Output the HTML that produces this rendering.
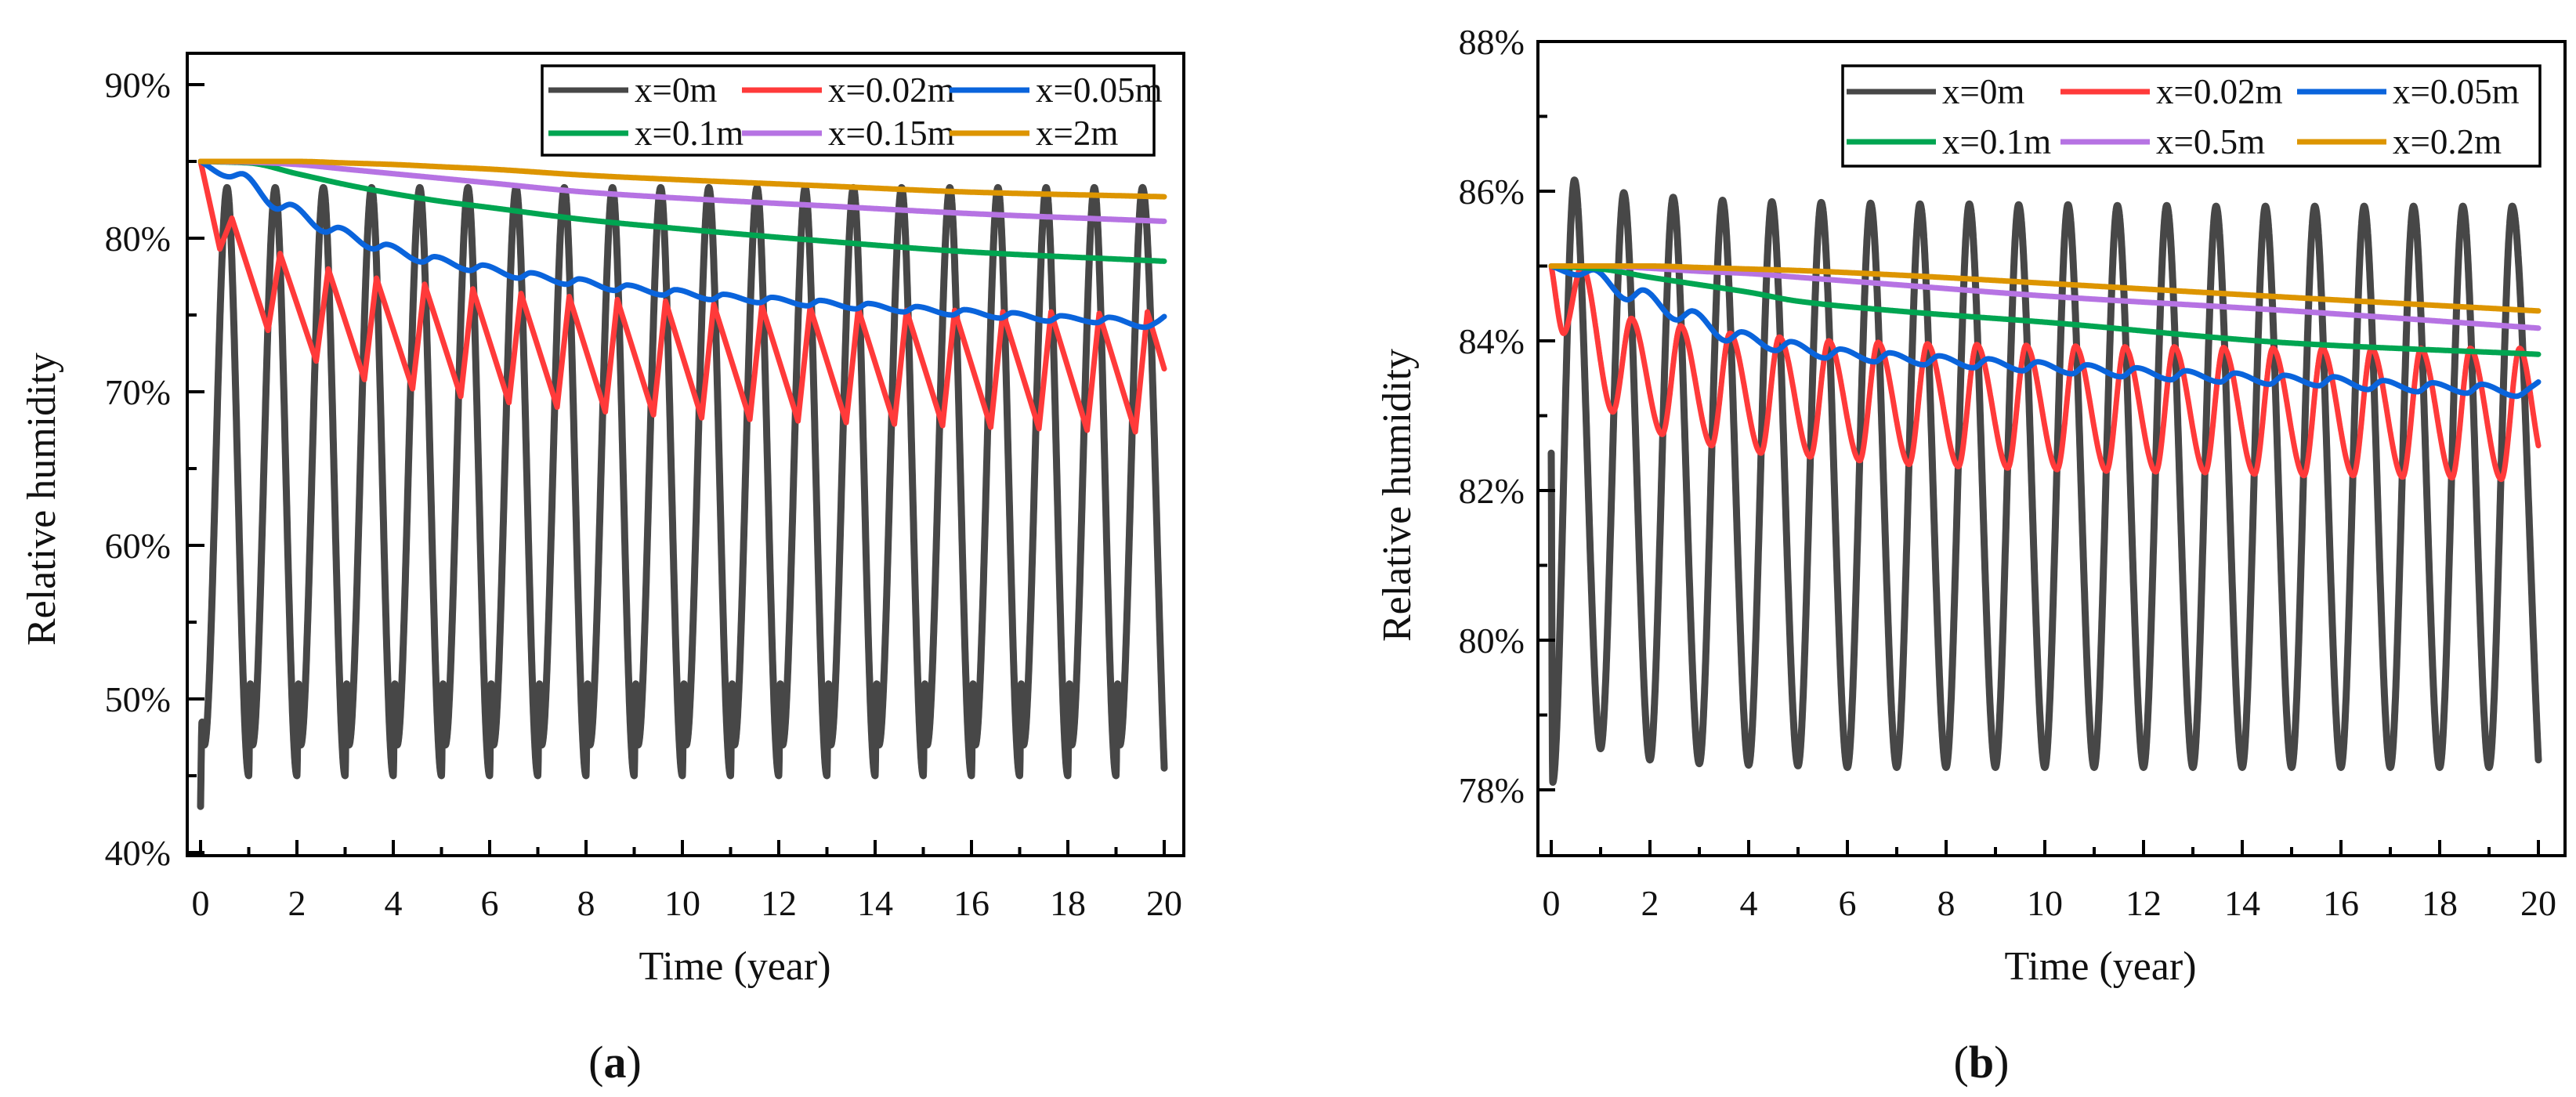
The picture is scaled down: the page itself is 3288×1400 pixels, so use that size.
<!DOCTYPE html>
<html><head><meta charset="utf-8">
<style>
html,body{margin:0;padding:0;background:#fff;}
svg{display:block;font-family:"Liberation Serif",serif;}
</style></head>
<body>
<svg id="fig" width="3288" height="1400" viewBox="0 0 3288 1400" xmlns="http://www.w3.org/2000/svg">
<rect width="3288" height="1400" fill="#fff"/>
<g id="pa"></g>
<g id="pb"></g>
</svg>
<script>
// ---------- Panel (a) data ----------
const xTicksA = [0,2,4,6,8,10,12,14,16,18,20];
const yTicksA = [40,50,60,70,80,90];
const yTickLabelsA = ["40%","50%","60%","70%","80%","90%"];
const legendA = ["x=0m","x=0.02m","x=0.05m","x=0.1m","x=0.15m","x=2m"];
const blackTroughA = [43,45,45,45,45,45,45,45,45,45,45,45,45,45,45,45,45,45,45,45,45.5];
const blackNotchHiA = [48.5,51,51,51,51,51,51,51,51,51,51,51,51,51,51,51,51,51,51,51];
const blackNotchLoA = [47,47,47,47,47,47,47,47,47,47,47,47,47,47,47,47,47,47,47,47];
const blackPeakA = [83.3,83.3,83.3,83.3,83.3,83.3,83.3,83.3,83.3,83.3,83.3,83.3,83.3,83.3,83.3,83.3,83.3,83.3,83.3,83.3];
const redTroughA = [79.3,74,72,70.8,70.2,69.7,69.3,69,68.7,68.5,68.3,68.2,68.1,68,67.9,67.8,67.7,67.6,67.5,67.4];
const redPeakA = [81.3,79,78,77.4,77,76.7,76.4,76.2,76,75.9,75.7,75.6,75.5,75.4,75.3,75.3,75.2,75.2,75.1,75.2];
const redStartA = 85, redEndA = 71.5;
const blueMinA = [84.0,81.9,80.4,79.3,78.45,77.9,77.4,77.0,76.6,76.3,76.0,75.8,75.6,75.4,75.2,75.0,74.8,74.6,74.5,74.2];
const blueMaxA = [84.2,82.2,80.7,79.6,78.8,78.25,77.75,77.35,76.95,76.65,76.35,76.15,75.95,75.75,75.55,75.35,75.15,74.95,74.85,74.55];
const blueStartA = 85, blueEndA = 74.9;
const smoothT = [0,1,2,3,4,5,6,8,10,13,16,20];
const greenA  = [85,84.9,84.2,83.5,82.9,82.4,82.0,81.2,80.6,79.8,79.1,78.5];
const purpleA = [85,84.95,84.8,84.5,84.2,83.9,83.6,83.0,82.6,82.1,81.6,81.1];
const goldA   = [85,85,85,84.9,84.8,84.65,84.5,84.1,83.8,83.4,83.0,82.7];

// ---------- Panel (b) data ----------
const xTicksB = [0,2,4,6,8,10,12,14,16,18,20];
const yTicksB = [78,80,82,84,86,88];
const yTickLabelsB = ["78%","80%","82%","84%","86%","88%"];
const legendB = ["x=0m","x=0.02m","x=0.05m","x=0.1m","x=0.5m","x=0.2m"];
const blackStartB = [82.5,78.1];
const blackPeakB = [86.15,85.98,85.92,85.88,85.86,85.85,85.84,85.83,85.83,85.82,85.82,85.81,85.81,85.8,85.8,85.8,85.8,85.8,85.8,85.8];
const blackTroughB = [78.55,78.4,78.35,78.33,78.32,78.3,78.3,78.3,78.3,78.3,78.3,78.3,78.3,78.3,78.3,78.3,78.3,78.3,78.3,78.4];
const redTroughB = [84.1,83.05,82.75,82.6,82.5,82.45,82.4,82.35,82.32,82.3,82.28,82.26,82.25,82.24,82.22,82.2,82.2,82.18,82.17,82.15];
const redPeakB = [85.0,84.3,84.2,84.1,84.05,84.0,83.98,83.96,83.95,83.94,83.93,83.92,83.92,83.91,83.9,83.9,83.9,83.9,83.9,83.9];
const redStartB = 85, redEndB = 82.6;
const blueMinB = [84.88,84.55,84.28,84.0,83.87,83.77,83.72,83.68,83.64,83.6,83.56,83.52,83.48,83.45,83.42,83.4,83.35,83.32,83.3,83.26];
const blueMaxB = [84.95,84.68,84.4,84.12,83.99,83.89,83.84,83.8,83.76,83.72,83.68,83.64,83.6,83.57,83.54,83.52,83.47,83.44,83.42,83.38];
const blueStartB = 85, blueEndB = 83.45;
const smoothTB = [0,1,2,3,4,5,7,10,15,20];
const greenB  = [85,84.96,84.85,84.75,84.65,84.53,84.4,84.25,83.97,83.82];
const purpleB = [85,85,84.97,84.93,84.9,84.85,84.75,84.6,84.4,84.17];
const goldB   = [85,85,85,84.98,84.96,84.94,84.88,84.77,84.58,84.4];

const COLORS = {black:"#474747", red:"#ff3a3a", blue:"#0a64dc", green:"#00a551", purple:"#b673e3", gold:"#dd9500"};
const NS = "http://www.w3.org/2000/svg";
function mk(tag, attrs, parent){ const e=document.createElementNS(NS,tag); for(const k in attrs) e.setAttribute(k,attrs[k]); parent.appendChild(e); return e; }

function monotone(ts, vs){
  const n=ts.length, d=[], m=new Array(n);
  for(let i=0;i<n-1;i++) d.push((vs[i+1]-vs[i])/(ts[i+1]-ts[i]));
  m[0]=d[0]; m[n-1]=d[n-2];
  for(let i=1;i<n-1;i++){ if(d[i-1]*d[i]<=0) m[i]=0; else { const w1=2*(ts[i+1]-ts[i])+(ts[i]-ts[i-1]), w2=(ts[i+1]-ts[i])+2*(ts[i]-ts[i-1]); m[i]=(w1+w2)/(w1/d[i-1]+w2/d[i]); } }
  for(let i=0;i<n-1;i++){ if(d[i]===0){m[i]=0;m[i+1]=0;} }
  return function(t){
    let i=0; while(i<n-2 && t>ts[i+1]) i++;
    const h=ts[i+1]-ts[i], s=(t-ts[i])/h, s2=s*s, s3=s2*s;
    return (2*s3-3*s2+1)*vs[i]+(s3-2*s2+s)*h*m[i]+(-2*s3+3*s2)*vs[i+1]+(s3-s2)*h*m[i+1];
  };
}
function seriesPath(ts, vs, X, Y, linear){
  if(linear){ let p=""; for(let i=0;i<ts.length;i++) p+=(i?"L":"M")+X(ts[i]).toFixed(1)+","+Y(vs[i]).toFixed(1); return p; }
  const f=monotone(ts,vs); let p="";
  const t0=ts[0], t1=ts[ts.length-1];
  for(let t=t0;t<=t1+1e-9;t+=0.004){ p+=(p?"L":"M")+X(t).toFixed(1)+","+Y(f(t)).toFixed(1); }
  return p;
}

function knotsBlackA(){ const T=[],V=[];
  for(let k=0;k<20;k++){ T.push(k); V.push(blackTroughA[k]); T.push(k+0.03); V.push(blackNotchHiA[k]); T.push(k+0.08); V.push(blackNotchLoA[k]); T.push(k+0.55); V.push(blackPeakA[k]); }
  T.push(20); V.push(blackTroughA[20]); return [T,V]; }
function knotsOsc(start, tr, trOff, pk, pkOff, end){ const T=[0],V=[start];
  for(let k=0;k<tr.length;k++){ T.push(k+trOff); V.push(tr[k]); T.push(k+pkOff); V.push(pk[k]); }
  T.push(20); V.push(end); return [T,V]; }
function knotsBlackB(){ const T=[0,0.03],V=blackStartB.slice();
  for(let k=0;k<20;k++){ T.push(k+0.47); V.push(blackPeakB[k]); T.push(k+1); V.push(blackTroughB[k]); }
  return [T,V]; }

function drawPanel(g, cfg){
  const X=t=>cfg.x0+t*cfg.xs, Y=v=>cfg.y0+(cfg.vTop-v)*cfg.ys;
  const cid="clip"+cfg.id;
  const defs=mk("defs",{},g); const cp=mk("clipPath",{id:cid},defs);
  mk("rect",{x:cfg.L,y:cfg.T,width:cfg.R-cfg.L,height:cfg.B-cfg.T},cp);
  const lines=mk("g",{"clip-path":"url(#"+cid+")"},g);
  
  
  cfg.series.forEach(s=>{
    const p=mk("path",{d:seriesPath(s.t,s.v,X,Y,s.linear),fill:"none",stroke:s.c,"stroke-width":s.w,"stroke-linejoin":"round","stroke-linecap":"round"},lines);
    
    
  });
  const fr=mk("rect",{x:cfg.L,y:cfg.T,width:cfg.R-cfg.L,height:cfg.B-cfg.T,fill:"none",stroke:"#000","stroke-width":4},g);
  
  
  const xa=mk("g",{},g);
  
  
  for(let t=0;t<=20;t++){ const maj=t%2===0; mk("line",{x1:X(t),x2:X(t),y1:cfg.B,y2:cfg.B-(maj?20:11),stroke:"#000","stroke-width":4},xa); }
  cfg.xTicks.forEach(t=>{ const tx=mk("text",{x:X(t),y:cfg.B+76,"font-size":46,"text-anchor":"middle",fill:"#111"},xa); tx.textContent=String(t);
      });
  const ya=mk("g",{},g);
  
  
  for(let v=cfg.yMin;v<=cfg.yMax+1e-9;v+=cfg.minorStep){ const yy=Y(v); if(yy>cfg.B-3) continue; const maj=Math.abs(((v-cfg.yTicks[0])/cfg.majorStep)-Math.round((v-cfg.yTicks[0])/cfg.majorStep))<1e-6;
    mk("line",{x1:cfg.L,x2:cfg.L+(maj?22:12),y1:yy,y2:yy,stroke:"#000","stroke-width":4},ya); }
  cfg.yTicks.forEach((v,i)=>{ const tx=mk("text",{x:cfg.ylabX,y:Y(v)+16,"font-size":46,"text-anchor":"end",fill:"#111"},ya); tx.textContent=cfg.yLabels[i];
      });
  const xt=mk("text",{x:cfg.xtX,y:1250,"font-size":52,"text-anchor":"middle",fill:"#111"},g); xt.textContent="Time (year)";
   
  const yt=mk("text",{x:0,y:0,"font-size":52,"text-anchor":"middle",fill:"#111",transform:"translate("+cfg.ytX+","+cfg.ytY+") rotate(-90)"},g); yt.textContent="Relative humidity";
   
  const cap=mk("text",{x:cfg.capX,y:1375,"font-size":58,"text-anchor":"middle",fill:"#111"},g);
  cap.innerHTML='(<tspan font-weight="bold">'+cfg.cap+'</tspan>)';
   
  const lg=mk("g",{},g);
  
  
  const lb=cfg.leg;
  mk("rect",{x:lb.x,y:lb.y,width:lb.w,height:lb.h,fill:"#fff",stroke:"#000","stroke-width":3.5},lg);
  cfg.series.forEach((s,i)=>{ const r=Math.floor(i/3), c=i%3;
    const ly=lb.rows[r], lx=lb.cols[c];
    const e=mk("g",{},lg);
    
    
    mk("line",{x1:lx,x2:lx+lb.len,y1:ly,y2:ly,stroke:s.c,"stroke-width":7},e);
    const tx=mk("text",{x:lx+lb.len+8,y:ly+15,"font-size":45,fill:"#111"},e); tx.textContent=cfg.legend[i];
  });
}

const kA=knotsBlackA();
const rA=knotsOsc(redStartA,redTroughA,0.4,redPeakA,0.65,redEndA);
const bA=knotsOsc(blueStartA,blueMinA,0.6,blueMaxA,0.85,blueEndA);
drawPanel(document.getElementById("pa"),{
  id:"a", L:239,R:1511,T:68,B:1092, x0:256,xs:61.5, y0:108,vTop:90,ys:19.6,
  yMin:40,yMax:90,minorStep:5,majorStep:10, xTicks:xTicksA, yTicks:yTicksA, yLabels:yTickLabelsA, ylabX:218,
  xtX:938, ytX:70, ytY:637, capX:785, cap:"a", legend:legendA,
  leg:{x:692,y:84,w:781,h:114,rows:[115,170],cols:[700,947,1212],len:102},
  series:[
    {name:"x-0m",t:kA[0],v:kA[1],c:COLORS.black,w:9},
    {name:"x-0.02m",t:rA[0],v:rA[1],c:COLORS.red,w:7,linear:true},
    {name:"x-0.05m",t:bA[0],v:bA[1],c:COLORS.blue,w:7},
    {name:"x-0.1m",t:smoothT,v:greenA,c:COLORS.green,w:7},
    {name:"x-0.15m",t:smoothT,v:purpleA,c:COLORS.purple,w:7},
    {name:"x-2m",t:smoothT,v:goldA,c:COLORS.gold,w:7}
  ]});

const kB=knotsBlackB();
const rB=knotsOsc(redStartB,redTroughB,0.25,redPeakB,0.62,redEndB);
const bB=knotsOsc(blueStartB,blueMinB,0.55,blueMaxB,0.85,blueEndB);
drawPanel(document.getElementById("pb"),{
  id:"b", L:1963,R:3274,T:53,B:1092, x0:1980,xs:63, y0:53,vTop:88,ys:95.5,
  yMin:77,yMax:88,minorStep:1,majorStep:2, xTicks:xTicksB, yTicks:yTicksB, yLabels:yTickLabelsB, ylabX:1946,
  xtX:2681, ytX:1800, ytY:632, capX:2529, cap:"b", legend:legendB,
  leg:{x:2352,y:84,w:890,h:128,rows:[117,181],cols:[2357,2630,2932],len:114},
  series:[
    {name:"x-0m",t:kB[0],v:kB[1],c:COLORS.black,w:9},
    {name:"x-0.02m",t:rB[0],v:rB[1],c:COLORS.red,w:7},
    {name:"x-0.05m",t:bB[0],v:bB[1],c:COLORS.blue,w:7},
    {name:"x-0.1m",t:smoothTB,v:greenB,c:COLORS.green,w:7},
    {name:"x-0.5m",t:smoothTB,v:purpleB,c:COLORS.purple,w:7},
    {name:"x-0.2m",t:smoothTB,v:goldB,c:COLORS.gold,w:7}
  ]});
</script>
</body></html>
